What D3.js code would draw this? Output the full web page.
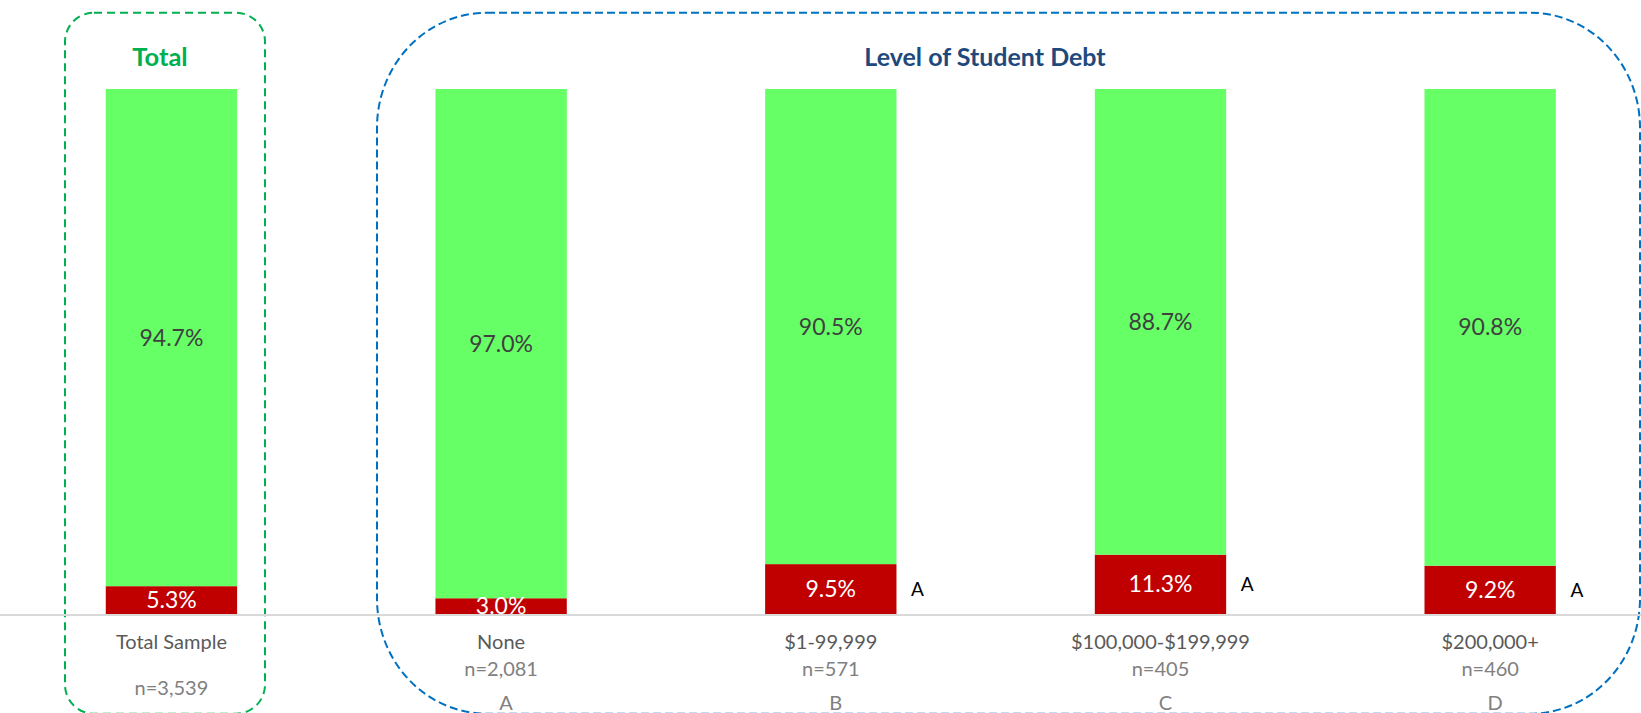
<!DOCTYPE html>
<html>
<head>
<meta charset="utf-8">
<script src="https://cdn.jsdelivr.net/npm/d3@7"></script>
<style>
  html, body { margin: 0; padding: 0; background: #fff; }
  svg { display: block; font-family: Lato, "Noto Sans", sans-serif; }
</style>
</head>
<body>
<svg id="chart"></svg>
<script>
const categories = ["Total Sample", "None", "$1-99,999", "$100,000-$199,999", "$200,000+"];
const sampleSizes = ["n=3,539", "n=2,081", "n=571", "n=405", "n=460"];
const columnLetters = ["", "A", "B", "C", "D"];
const yesValues = [94.7, 97.0, 90.5, 88.7, 90.8];
const noValues = [5.3, 3.0, 9.5, 11.3, 9.2];
const sigLetters = ["", "", "A", "A", "A"];
const groupTitles = ["Total", "Level of Student Debt"];

const w = 1641;
const h = 713;
const baseY = 614;
const topY = 89;

const svg = d3.select("#chart").attr("width", w).attr("height", h);

const xScale = d3
  .scaleBand()
  .domain(categories)
  .range([6.6, 1655])
  .paddingInner(0.6016)
  .paddingOuter(0.3008);

const yScale = d3.scaleLinear().domain([0, 100]).range([baseY, topY]);

// group boxes
svg
  .append("rect")
  .attr("x", 65)
  .attr("y", 12.7)
  .attr("width", 200)
  .attr("height", 701)
  .attr("rx", 29)
  .attr("fill", "none")
  .attr("stroke", "#00b050")
  .attr("stroke-width", 2)
  .attr("stroke-dasharray", "8,5");

svg
  .append("rect")
  .attr("x", 377)
  .attr("y", 12.7)
  .attr("width", 1263)
  .attr("height", 701)
  .attr("rx", 110)
  .attr("ry", 115)
  .attr("fill", "none")
  .attr("stroke", "#0070c0")
  .attr("stroke-width", 2)
  .attr("stroke-dasharray", "8,4");

svg
  .append("text")
  .attr("x", 160)
  .attr("y", 57)
  .attr("dy", "0.35em")
  .attr("text-anchor", "middle")
  .attr("font-size", 25.5)
  .attr("font-weight", "bold")
  .attr("fill", "#00b050")
  .text(groupTitles[0]);

svg
  .append("text")
  .attr("x", 985)
  .attr("y", 57)
  .attr("dy", "0.35em")
  .attr("text-anchor", "middle")
  .attr("font-size", 25)
  .attr("font-weight", "bold")
  .attr("fill", "#1f497d")
  .text(groupTitles[1]);

const rows = categories.map((c, i) => ({
  cat: c,
  yes: yesValues[i],
  no: noValues[i],
  n: sampleSizes[i],
  letter: columnLetters[i],
  sig: sigLetters[i],
}));

// bars
const bars = svg.append("g");

bars
  .selectAll("rect.no")
  .data(rows)
  .enter()
  .append("rect")
  .attr("class", "no")
  .attr("x", (d) => xScale(d.cat))
  .attr("y", (d) => yScale(d.no))
  .attr("width", xScale.bandwidth())
  .attr("height", (d) => baseY - yScale(d.no))
  .attr("fill", "#c00000");

bars
  .selectAll("rect.yes")
  .data(rows)
  .enter()
  .append("rect")
  .attr("class", "yes")
  .attr("x", (d) => xScale(d.cat))
  .attr("y", (d) => yScale(d.no + d.yes))
  .attr("width", xScale.bandwidth())
  .attr("height", (d) => yScale(d.no) - yScale(d.no + d.yes))
  .attr("fill", "#66ff66");

// axis line
svg
  .append("line")
  .attr("x1", 0)
  .attr("x2", w)
  .attr("y1", baseY + 1)
  .attr("y2", baseY + 1)
  .attr("stroke", "#d9d9d9")
  .attr("stroke-width", 2);

// value labels, clipped to plot area
svg
  .append("clipPath")
  .attr("id", "plot-clip")
  .append("rect")
  .attr("x", 0)
  .attr("y", 0)
  .attr("width", w)
  .attr("height", baseY);

const labels = svg.append("g").attr("clip-path", "url(#plot-clip)");

labels
  .selectAll("text.yes")
  .data(rows)
  .enter()
  .append("text")
  .attr("x", (d) => xScale(d.cat) + xScale.bandwidth() / 2)
  .attr("y", (d) => (yScale(d.no) + yScale(d.no + d.yes)) / 2)
  .attr("dy", "0.35em")
  .attr("text-anchor", "middle")
  .attr("font-size", 23)
  .attr("fill", "#404040")
  .text((d) => d.yes.toFixed(1) + "%");

labels
  .selectAll("text.no")
  .data(rows)
  .enter()
  .append("text")
  .attr("x", (d) => xScale(d.cat) + xScale.bandwidth() / 2)
  .attr("y", (d) => (baseY + yScale(d.no)) / 2)
  .attr("dy", "0.35em")
  .attr("text-anchor", "middle")
  .attr("font-size", 23)
  .attr("fill", "#ffffff")
  .text((d) => d.no.toFixed(1) + "%");

// significance letters
svg
  .selectAll("text.sig")
  .data(rows.filter((d) => d.sig))
  .enter()
  .append("text")
  .attr("x", (d) => xScale(d.cat) + xScale.bandwidth() + 21)
  .attr("y", (d) => (baseY + yScale(d.no)) / 2)
  .attr("dy", "0.35em")
  .attr("text-anchor", "middle")
  .attr("font-size", 19)
  .attr("fill", "#000")
  .text((d) => d.sig);

// category labels
const cx = (d) => xScale(d.cat) + xScale.bandwidth() / 2;

svg
  .selectAll("text.cat")
  .data(rows)
  .enter()
  .append("text")
  .attr("x", cx)
  .attr("y", 642)
  .attr("dy", "0.35em")
  .attr("text-anchor", "middle")
  .attr("font-size", 20)
  .attr("fill", "#595959")
  .text((d) => d.cat);

svg
  .selectAll("text.n")
  .data(rows)
  .enter()
  .append("text")
  .attr("x", cx)
  .attr("y", (d, i) => (i === 0 ? 688 : 669))
  .attr("dy", "0.35em")
  .attr("text-anchor", "middle")
  .attr("font-size", 20)
  .attr("fill", "#808080")
  .text((d) => d.n);

svg
  .selectAll("text.letter")
  .data(rows.filter((d) => d.letter))
  .enter()
  .append("text")
  .attr("x", (d) => cx(d) + 5)
  .attr("y", 703)
  .attr("dy", "0.35em")
  .attr("text-anchor", "middle")
  .attr("font-size", 20)
  .attr("fill", "#808080")
  .text((d) => d.letter);
</script>
</body>
</html>
